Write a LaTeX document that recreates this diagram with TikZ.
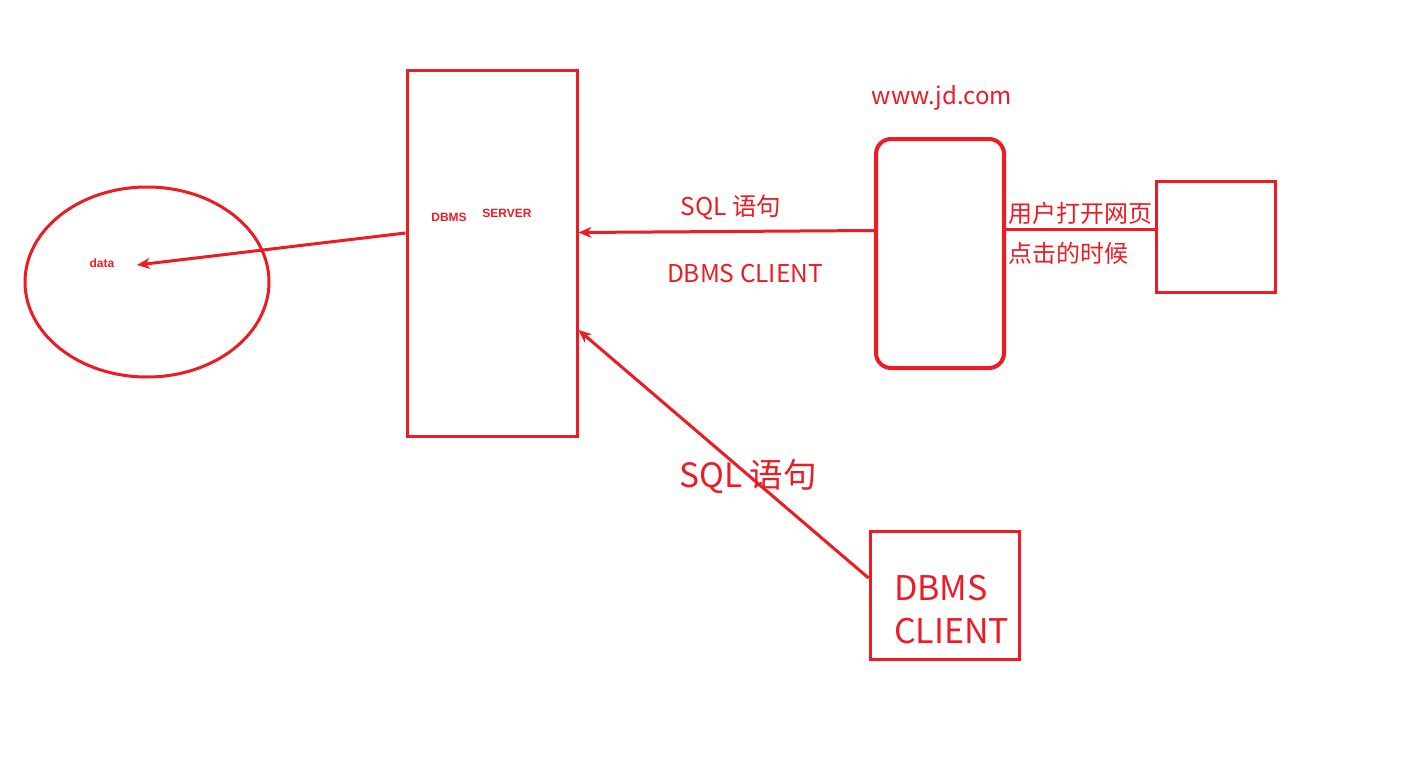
\documentclass[tikz,border=0pt]{standalone}
\usepackage{fontspec}
\setmainfont{Noto Sans CJK SC}
\newfontfamily\arialfont{Liberation Sans}
\usetikzlibrary{arrows.meta,shapes.geometric}
\definecolor{myred}{RGB}{237,28,36}
\begin{document}
\begin{tikzpicture}[x=1pt,y=-1pt,
  box/.style={draw=myred,line width=3pt,rectangle,inner sep=0pt},
  lbl/.style={text=myred,inner sep=0pt},
  conn/.style={draw=myred,line width=3pt},
  arr/.style={conn,-{Stealth[length=13pt,width=11pt]}},
  smallbold/.style={lbl,font=\arialfont\bfseries\fontsize{12}{14}\selectfont}]
\useasboundingbox[fill=white] (0,0) rectangle (1404,757);
% shapes
\node[box,ellipse,minimum width=244pt,minimum height=190pt] (db) at (147,282) {};
\node[box,minimum width=170pt,minimum height=365pt] (server) at (492,253.5) {};
\node[box,line width=4pt,rounded corners=15pt,minimum width=128pt,minimum height=229pt] (jd) at (940,253.5) {};
\node[box,minimum width=119pt,minimum height=111pt] (sq) at (1215.5,236.5) {};
\node[box,minimum width=149pt,minimum height=128pt] (client) at (944.5,595) {};
\coordinate (datapt) at (137,265);
% texts
\node[smallbold] (datalbl) at (102,263) {data};
\node[smallbold] (dbmslbl) at (449,217) {DBMS};
\node[smallbold] (serverlbl) at (507,213) {SERVER};
\node[lbl,font=\fontsize{24.5}{28}\selectfont] (sql1) at (731,207) {SQL 语句};
\node[lbl,font=\fontsize{24.5}{28}\selectfont] (cl1) at (745,274) {DBMS CLIENT};
\node[lbl,font=\fontsize{24}{28}\selectfont] (www) at (942,98) {www.jd.com};
\node[lbl,anchor=west,font=\fontsize{24}{28}\selectfont] (user1) at (1008,213) {用户打开网页};
\node[lbl,anchor=west,font=\fontsize{24}{28}\selectfont] (user2) at (1008,253) {点击的时候};
\node[lbl,font=\fontsize{33.5}{38}\selectfont] (sql2) at (748,477) {SQL 语句};
\node[lbl,anchor=west,font=\fontsize{34}{39}\selectfont] (cl2a) at (894,588) {DBMS};
\node[lbl,anchor=west,font=\fontsize{34}{39}\selectfont] (cl2b) at (894,631) {CLIENT};
% connectors
\draw[arr] ([yshift=20.5pt]server.west) -- (datapt);
\draw[arr] ([yshift=23pt]jd.west) -- ([yshift=21pt]server.east);
\draw[conn] ([yshift=24.5pt]jd.east) -- ([yshift=24.5pt]jd.east -| sq.west);
\draw[arr] ([yshift=17pt]client.west) -- ([yshift=-76.5pt]server.east);
\end{tikzpicture}
\end{document}
